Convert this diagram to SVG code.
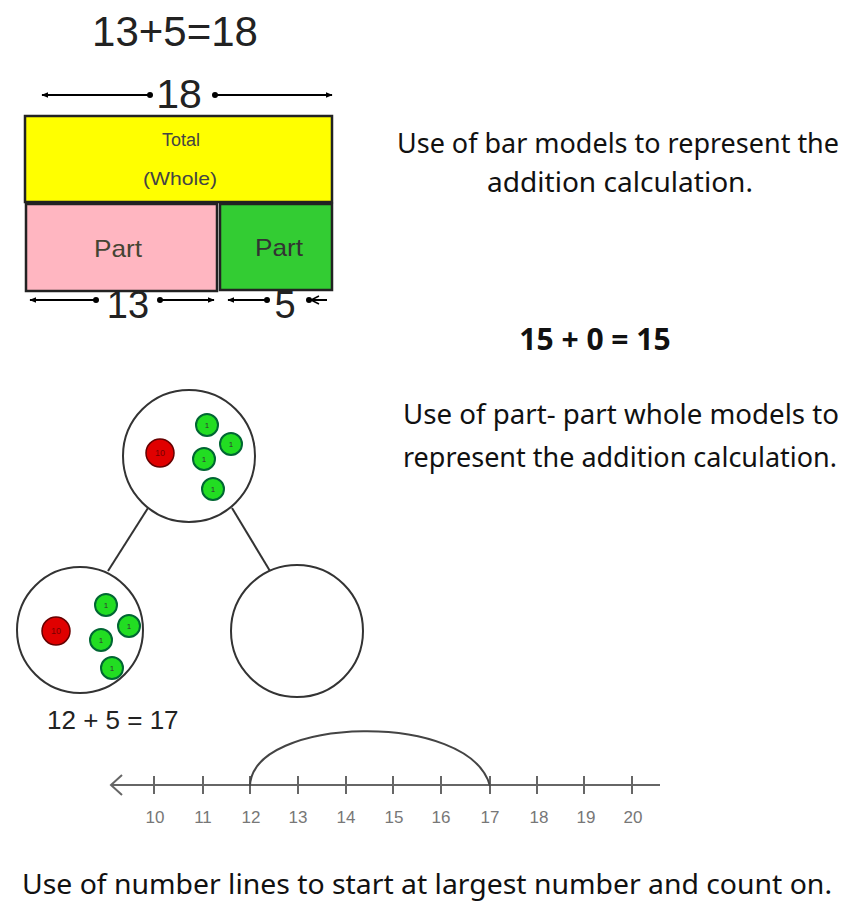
<svg xmlns="http://www.w3.org/2000/svg" width="851" height="912" viewBox="0 0 851 912">
<defs>
<marker id="ah" viewBox="0 0 10 10" refX="9" refY="5" markerWidth="7" markerHeight="7" orient="auto-start-reverse" markerUnits="userSpaceOnUse"><path d="M0,1 L10,5 L0,9 z" fill="#000"/></marker>
<style>
.ar{font-family:"Liberation Sans",Arial,sans-serif;}
.desc{font-family:"Noto Sans","Open Sans",sans-serif;font-size:27px;fill:#111;}
.ln{stroke:#000;stroke-width:2;fill:none;}
.dot{fill:#000;}
.big{stroke:#333;stroke-width:2;fill:#fff;}
.red{fill:#e00000;stroke:#600;stroke-width:1.5;}
.grn{fill:#22dd22;stroke:#063;stroke-width:2;}
.cn{font-family:"Liberation Sans",Arial,sans-serif;font-size:8px;text-anchor:middle;fill:#333;}
.cr{font-family:"Liberation Sans",Arial,sans-serif;font-size:9px;text-anchor:middle;fill:#700;}
.nl{stroke:#666;stroke-width:2;fill:none;}
.nlab{font-family:"Liberation Sans",Arial,sans-serif;font-size:17px;fill:#777;text-anchor:middle;}
</style>
</defs>
<rect width="851" height="912" fill="#fff"/>
<text class="ar" x="175" y="46" font-size="42" text-anchor="middle" fill="#222">13+5=18</text>
<g id="bar-model">
<g id="arrow18">
<line class="ln" x1="42" y1="95" x2="150" y2="95" marker-start="url(#ah)"/>
<circle class="dot" cx="150" cy="95" r="3"/>
<text class="ar" x="179" y="108" font-size="41" text-anchor="middle" fill="#222">18</text>
<circle class="dot" cx="215" cy="95" r="3"/>
<line class="ln" x1="215" y1="95" x2="332" y2="95" marker-end="url(#ah)"/>
</g>
<g id="total"><rect x="25" y="116" width="307" height="86" fill="#ffff00" stroke="#222" stroke-width="2.5"/>
<text class="ar" x="181" y="146" font-size="18" text-anchor="middle" fill="#444">Total</text>
<text class="ar" x="180" y="185" font-size="19" text-anchor="middle" fill="#444" textLength="74" lengthAdjust="spacingAndGlyphs">(Whole)</text></g>
<g id="part13"><rect x="26" y="204" width="191" height="87" fill="#ffb6c1" stroke="#222" stroke-width="2.5"/>
<text class="ar" x="118" y="257" font-size="24" text-anchor="middle" fill="#443" textLength="48" lengthAdjust="spacingAndGlyphs">Part</text></g>
<g id="part5"><rect x="220" y="204" width="112" height="86" fill="#33cc33" stroke="#222" stroke-width="2.5"/>
<text class="ar" x="279" y="256" font-size="24" text-anchor="middle" fill="#333" textLength="48" lengthAdjust="spacingAndGlyphs">Part</text></g>
<g id="arrow13">
<line class="ln" x1="30" y1="300" x2="96" y2="300" marker-start="url(#ah)"/>
<circle class="dot" cx="96" cy="300" r="3"/>
<text class="ar" x="128" y="318" font-size="38" text-anchor="middle" fill="#222">13</text>
<circle class="dot" cx="160" cy="300" r="3"/>
<line class="ln" x1="160" y1="300" x2="214" y2="300" marker-end="url(#ah)"/>
</g>
<g id="arrow5">
<line class="ln" x1="228" y1="300" x2="267" y2="300" marker-start="url(#ah)"/>
<circle class="dot" cx="267" cy="300" r="3"/>
<text class="ar" x="285" y="318" font-size="38" text-anchor="middle" fill="#222">5</text>
<circle class="dot" cx="309" cy="300" r="3"/>
<line class="ln" x1="309" y1="300" x2="327" y2="300"/>
<path d="M319,296 L311,300 L319,304" fill="none" stroke="#000" stroke-width="1.5"/>
</g>
</g>
<text class="desc" x="618" y="153" text-anchor="middle" textLength="442" lengthAdjust="spacingAndGlyphs">Use of bar models to represent the</text>
<text class="desc" x="620" y="192" text-anchor="middle" textLength="266" lengthAdjust="spacingAndGlyphs">addition calculation.</text>
<text x="595" y="350" font-family="'Noto Sans','Liberation Sans',sans-serif" font-size="30" font-weight="bold" text-anchor="middle" fill="#111">15 + 0 = 15</text>
<text class="desc" x="621" y="424" text-anchor="middle" textLength="436" lengthAdjust="spacingAndGlyphs">Use of part- part whole models to</text>
<text class="desc" x="620" y="467" text-anchor="middle" textLength="434" lengthAdjust="spacingAndGlyphs">represent the addition calculation.</text>
<g id="connectors">
<line x1="148" y1="508" x2="108" y2="571" stroke="#333" stroke-width="2"/>
<line x1="232" y1="508" x2="270" y2="571" stroke="#333" stroke-width="2"/>
</g>
<g id="whole-node">
<circle class="big" cx="189" cy="456" r="66"/>
<circle class="red" cx="160" cy="453" r="14"/><text class="cr" x="160" y="456">10</text>
<circle class="grn" cx="207" cy="425" r="11"/><text class="cn" x="207" y="428">1</text>
<circle class="grn" cx="231" cy="444" r="11"/><text class="cn" x="231" y="447">1</text>
<circle class="grn" cx="204" cy="459" r="11"/><text class="cn" x="204" y="462">1</text>
<circle class="grn" cx="213" cy="489" r="11"/><text class="cn" x="213" y="492">1</text>
</g>
<g id="part-node-left">
<circle class="big" cx="80" cy="630" r="63"/>
<circle class="red" cx="56" cy="631" r="14"/><text class="cr" x="56" y="634">10</text>
<circle class="grn" cx="106" cy="605" r="11"/><text class="cn" x="106" y="608">1</text>
<circle class="grn" cx="129" cy="626" r="11"/><text class="cn" x="129" y="629">1</text>
<circle class="grn" cx="101" cy="640" r="11"/><text class="cn" x="101" y="643">1</text>
<circle class="grn" cx="112" cy="668" r="11"/><text class="cn" x="112" y="671">1</text>
</g>
<g id="part-node-right">
<circle class="big" cx="297" cy="631" r="66"/>
</g>
<text x="47" y="729" font-family="'Liberation Sans',Arial,sans-serif" font-size="26" fill="#222">12 + 5 = 17</text>
<g id="number-line">
<line class="nl" x1="112" y1="785" x2="660" y2="785"/>
<path class="nl" d="M122,775 L111,785 L122,795"/>
<g class="nl">
<line x1="154" y1="776" x2="154" y2="794"/><line x1="203" y1="776" x2="203" y2="794"/>
<line x1="250" y1="776" x2="250" y2="794"/><line x1="298" y1="776" x2="298" y2="794"/>
<line x1="346" y1="776" x2="346" y2="794"/><line x1="393" y1="776" x2="393" y2="794"/>
<line x1="441" y1="776" x2="441" y2="794"/><line x1="490" y1="776" x2="490" y2="794"/>
<line x1="537" y1="776" x2="537" y2="794"/><line x1="584" y1="776" x2="584" y2="794"/>
<line x1="632" y1="776" x2="632" y2="794"/>
</g>
<path d="M250,786 C252,716 470,710 490,786" fill="none" stroke="#444" stroke-width="2"/>
<text class="nlab" x="155" y="823">10</text><text class="nlab" x="203" y="823">11</text>
<text class="nlab" x="251" y="823">12</text><text class="nlab" x="298" y="823">13</text>
<text class="nlab" x="346" y="823">14</text><text class="nlab" x="394" y="823">15</text>
<text class="nlab" x="441" y="823">16</text><text class="nlab" x="490" y="823">17</text>
<text class="nlab" x="539" y="823">18</text><text class="nlab" x="586" y="823">19</text>
<text class="nlab" x="633" y="823">20</text>
</g>
<text class="desc" x="427" y="894" text-anchor="middle" font-size="28" textLength="810" lengthAdjust="spacingAndGlyphs">Use of number lines to start at largest number and count on.</text>
</svg>
